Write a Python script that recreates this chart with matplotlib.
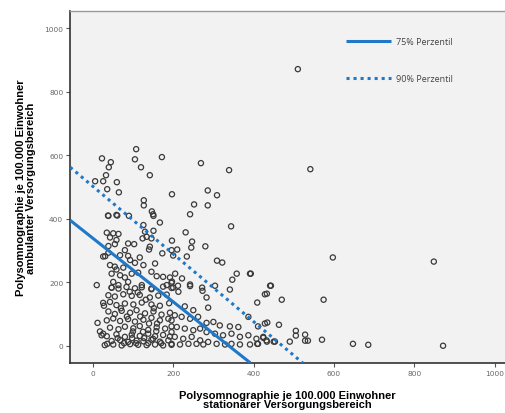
import matplotlib
matplotlib.use('Agg')
import matplotlib.pyplot as plt

# Polysomnographie je 100.000 Einwohner: stationaer (x) vs. ambulant (y)
x_upper = [23, 45, 40, 33, 6, 26, 60, 36, 65, 108, 105, 120, 142, 172, 197,
           127, 127, 269, 339, 286, 309, 252, 286, 147, 150, 38, 61, 242]
y_upper = [590, 578, 562, 537, 518, 518, 515, 493, 483, 619, 587, 562, 537, 594, 477,
           458, 442, 575, 553, 489, 474, 445, 442, 423, 414, 410, 410, 414]

x_mid = [39, 59, 90, 151, 167, 126, 151, 130, 134, 124, 146, 35, 51, 64, 43, 59,
         55, 88, 103, 39, 142, 140, 173, 196, 80, 31, 39, 68, 88, 93, 117, 105,
         126, 155, 43, 55, 59, 76, 47, 68, 80, 97, 113, 146, 159, 175, 192, 196,
         88, 51, 10, 47, 64, 122, 146, 184, 26,
         344, 231, 247, 245, 280, 197, 210, 200, 234, 309, 322, 358, 347, 391,
         441, 205, 197, 222, 242, 272, 304, 212]
y_mid = [409, 412, 409, 409, 388, 380, 362, 359, 343, 338, 338, 356, 354, 352, 341, 333,
         320, 322, 320, 314, 312, 303, 291, 301, 301, 282, 293, 285, 283, 270, 278, 261,
         254, 259, 254, 249, 240, 246, 227, 222, 215, 227, 230, 233, 219, 217, 215, 198,
         201, 201, 191, 183, 191, 191, 180, 191, 281,
         376, 357, 328, 309, 313, 331, 303, 284, 281, 268, 262, 227, 208, 227,
         189, 227, 202, 212, 193, 183, 189, 189]

x_low = [47, 64, 84, 105, 122, 146, 175, 196,
         39, 55, 76, 97, 117, 142, 163, 184,
         26, 43, 59, 80, 101, 122, 146, 167, 190,
         39, 55, 72, 93, 109, 130, 151, 171, 192,
         35, 51, 68, 88, 105, 126, 146, 167, 188,
         43, 64, 80, 101, 117, 138, 159, 180, 196,
         22, 35, 59, 80, 97, 117, 138, 155, 175, 192,
         47, 68, 88, 109, 126, 146, 167, 188,
         30, 51, 72, 93, 113, 134, 155, 175, 196,
         26, 36, 28, 18, 12,
         92, 112, 132, 152, 70, 85, 118, 140, 160, 100, 125, 62,
         150, 170, 108, 128, 78, 98, 138, 158]
y_low = [183, 180, 185, 181, 184, 178, 186, 182,
         159, 155, 162, 157, 160, 152, 158, 161,
         135, 138, 128, 133, 130, 136, 130, 126, 134,
         108, 100, 110, 104, 112, 102, 108, 98, 104,
         80, 86, 78, 84, 76, 82, 88, 80, 85,
         57, 52, 60, 55, 62, 50, 58, 54, 61,
         33, 30, 36, 28, 35, 31, 38, 30, 34, 29,
         15, 18, 12, 16, 14, 19, 13, 17,
         2, 4, 1, 5, 3, 2, 4, 1, 3,
         38, 6, 126, 45, 72,
         170, 168, 145, 118, 118, 92, 92, 70, 70, 45, 44, 24,
         22, 8, 8, 24, 8, 24, 8, 46]

x_right = [242, 273, 213, 341, 200, 283, 409, 428, 287, 229, 250, 204, 221, 196,
           387, 300, 283, 316, 341, 362, 411, 428, 209, 229, 250, 267, 283, 304,
           324, 345, 366, 387, 407, 424, 204, 225, 246, 267, 287, 308, 329, 345,
           366, 391, 411, 432, 196, 217, 238, 258, 275, 196, 242, 262]
y_right = [188, 173, 170, 177, 183, 152, 136, 162, 120, 124, 112, 96, 91, 80,
           91, 75, 72, 64, 61, 59, 61, 70, 59, 54, 49, 54, 43, 38,
           33, 38, 28, 33, 22, 28, 28, 22, 28, 17, 12, 6, 4, 6,
           4, 4, 6, 17, 6, 4, 6, 6, 4, 43, 85, 91]

x_far = [510, 541, 597, 443, 433, 470, 574, 434, 463, 505, 505, 528, 528, 535,
         490, 453, 433, 570, 647, 685, 848, 871, 393, 424, 409, 450]
y_far = [871, 556, 278, 189, 164, 145, 145, 73, 66, 47, 32, 35, 16, 16,
         13, 13, 13, 19, 6, 3, 265, 0, 227, 25, 6, 13]

xs = x_upper + x_mid + x_low + x_right + x_far
ys = y_upper + y_mid + y_low + y_right + y_far

# percentile lines (end points)
p75_x = [-56, 392]
p75_y = [395, -54]
p90_x = [-56, 522]
p90_y = [562, -54]

BLUE = '#1f78c8'

fig = plt.figure(figsize=(5.05, 4.14), dpi=100)
fig.patch.set_facecolor('white')
ax = fig.add_axes([0.139, 0.121, 0.861, 0.850])
ax.set_facecolor('#f2f2f2')

ax.scatter(xs, ys, s=14, facecolors='none', edgecolors='#3a3a3a',
           linewidths=0.9, zorder=3)
ax.plot(p75_x, p75_y, color=BLUE, lw=2.2, solid_capstyle='butt',
        zorder=4, label='75% Perzentil')
ax.plot(p90_x, p90_y, color=BLUE, lw=2.2, ls=(0, (1, 1.3)),
        zorder=4, label='90% Perzentil')

ax.set_xlim(-56, 1025)
ax.set_ylim(-54, 1054)
ax.set_xticks([0, 200, 400, 600, 800, 1000])
ax.set_yticks([0, 200, 400, 600, 800, 1000])
ax.tick_params(direction='out', length=3, width=0.8, color='#555555',
               labelsize=5.3, labelcolor='#666666', pad=2)

for side in ['left', 'bottom']:
    ax.spines[side].set_color('#333333')
    ax.spines[side].set_linewidth(1.2)
ax.spines['top'].set_color('#999999')
ax.spines['top'].set_linewidth(1.0)
ax.spines['right'].set_visible(False)

ax.set_xlabel('Polysomnographie je 100.000 Einwohner\nstationärer Versorgungsbereich',
              fontsize=8, fontweight='bold', family='Liberation Sans',
              linespacing=0.95, labelpad=10)
ax.set_ylabel('Polysomnographie je 100.000 Einwohner\nambulanter Versorgungsbereich',
              fontsize=8, fontweight='bold', family='Liberation Sans',
              linespacing=0.95, labelpad=6)

leg = ax.legend(loc='upper left', bbox_to_anchor=(0.615, 0.95), frameon=False,
                handlelength=5, labelspacing=3.1, handletextpad=0.6,
                prop={'family': 'Open Sans', 'size': 6.5})
for t in leg.get_texts():
    t.set_color('#444444')

fig.savefig('out.png', dpi=100)
